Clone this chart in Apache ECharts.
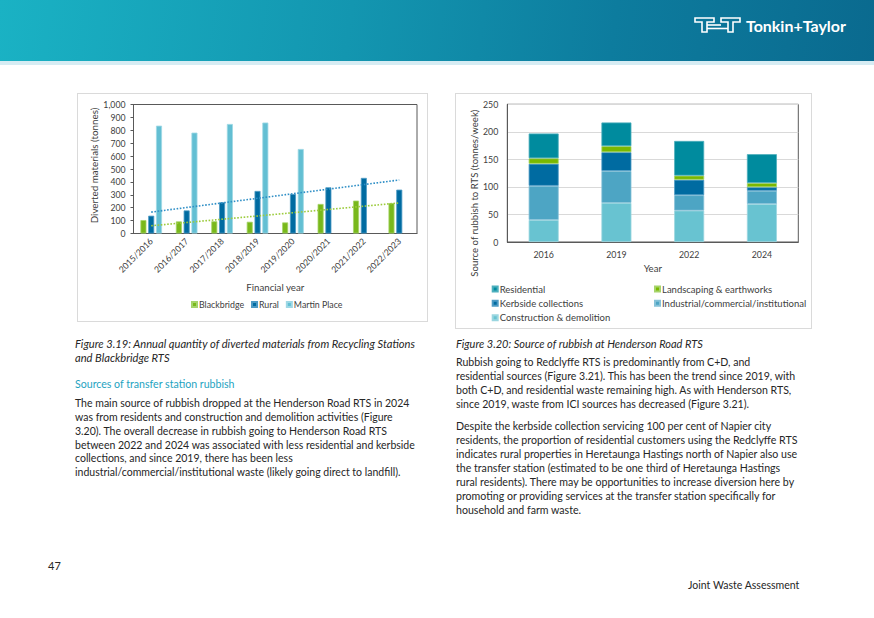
<!DOCTYPE html>
<html><head><meta charset="utf-8">
<script src="https://cdn.jsdelivr.net/npm/echarts@6/dist/echarts.min.js"></script>
<style>
html,body{margin:0;padding:0;background:#fff;}
body{width:874px;height:618px;position:relative;overflow:hidden;font-family:Lato,'Noto Sans',sans-serif;color:#262626;}
.hdr{position:absolute;left:0;top:0;width:874px;height:61px;background:linear-gradient(98deg,#1AB2C4 0%,#1396B0 40%,#0D7C9E 70%,#0A6A8F 100%);}
.band{position:absolute;left:0;top:61px;width:874px;height:4px;background:#D6ECF3;}
.t{position:absolute;white-space:nowrap;}
.frame{position:absolute;border:1px solid #DADADA;box-sizing:border-box;}
.cap{font-style:italic;}
.h{color:#1EA3BF;}
</style></head>
<body>
<div class="hdr"></div><div class="band"></div>
<svg style="position:absolute;left:694px;top:17px" width="48" height="16" viewBox="0 0 48 16">
  <g fill="none" stroke="#fff" stroke-width="1.6" stroke-linejoin="miter">
    <path d="M1 1 H20 V5 H13 V15 H8 V5 H1 Z"/>
    <path d="M13 8 H27"/>
    <path d="M27 1 H46 V5 H39 V15 H34 V5 H27 Z"/>
    <path d="M13 11.5 H34"/>
  </g>
</svg>
<div class="t" id="logo" style="left:746px;top:17px;font-weight:700;font-size:15px;color:#fff;line-height:18px;">Tonkin+Taylor</div>

<div class="frame" style="left:77px;top:93px;width:351px;height:229px;"></div>
<div id="c1" style="position:absolute;left:77px;top:93px;width:351px;height:229px;"></div>
<div class="frame" style="left:455px;top:93px;width:357px;height:236px;"></div>
<div id="c2" style="position:absolute;left:455px;top:93px;width:357px;height:236px;"></div>

<div class="t cap" id="cap1" style="left:75px;top:337px;line-height:13.7px;font-size:11px;">Figure 3.19: Annual quantity of diverted materials from Recycling Stations<br>and Blackbridge RTS</div>
<div class="t h" id="head1" style="left:75px;top:377px;line-height:14px;font-size:11px;">Sources of transfer station rubbish</div>
<div class="t" id="p1" style="left:75px;top:397px;line-height:13.85px;font-size:11px;">The main source of rubbish dropped at the Henderson Road RTS in 2024<br>was from residents and construction and demolition activities (Figure<br>3.20). The overall decrease in rubbish going to Henderson Road RTS<br>between 2022 and 2024 was associated with less residential and kerbside<br>collections, and since 2019, there has been less<br>industrial/commercial/institutional waste (likely going direct to landfill).</div>

<div class="t cap" id="cap2" style="left:456px;top:337px;line-height:14px;font-size:11px;">Figure 3.20: Source of rubbish at Henderson Road RTS</div>
<div class="t" id="p2" style="left:456px;top:356.3px;line-height:13.9px;font-size:11px;">Rubbish going to Redclyffe RTS is predominantly from C+D, and<br>residential sources (Figure 3.21). This has been the trend since 2019, with<br>both C+D, and residential waste remaining high. As with Henderson RTS,<br>since 2019, waste from ICI sources has decreased (Figure 3.21).</div>
<div class="t" id="p3" style="left:456px;top:419px;line-height:14px;font-size:11px;">Despite the kerbside collection servicing 100 per cent of Napier city<br>residents, the proportion of residential customers using the Redclyffe RTS<br>indicates rural properties in Heretaunga Hastings north of Napier also use<br>the transfer station (estimated to be one third of Heretaunga Hastings<br>rural residents). There may be opportunities to increase diversion here by<br>promoting or providing services at the transfer station specifically for<br>household and farm waste.</div>

<div class="t" style="left:48px;top:559px;font-size:11px;line-height:14px;">47</div>
<div class="t" id="jwa" style="left:688px;top:578px;font-size:11px;line-height:14px;">Joint Waste Assessment</div>

<script>
// ---------- data: Figure 3.19 ----------
const fyCategories = ['2015/2016','2016/2017','2017/2018','2018/2019','2019/2020','2020/2021','2021/2022','2022/2023'];
const blackbridge = [104, 94, 95, 91, 86, 229, 255, 236];
const rural = [138, 179, 242, 330, 306, 358, 431, 340];
const martinPlace = [836, 782, 849, 860, 655, null, null, null];
const ruralTrendEnds = [166, 415];
const blackbridgeTrendEnds = [60, 237];
const yTicks1 = [0,100,200,300,400,500,600,700,800,900,1000];

// ---------- data: Figure 3.20 ----------
const years = ['2016','2019','2022','2024'];
const constructionDemolition = [40, 71, 57, 69];
const industrialCommercial = [62, 58, 28, 24];
const kerbside = [40, 34, 28, 6.5];
const landscaping = [10, 11, 7.5, 7.5];
const residential = [45, 43, 63, 52.5];

// ---------- fit text widths ----------
function fit(id, refText, target){
  const el = document.getElementById(id);
  const cs = getComputedStyle(el);
  const fs = parseFloat(cs.fontSize);
  const c = document.createElement('canvas').getContext('2d');
  c.font = cs.fontStyle + ' ' + cs.fontWeight + ' ' + fs + 'px ' + cs.fontFamily;
  const w = c.measureText(refText).width;
  el.style.fontSize = (fs * target / w) + 'px';
}
fit('p1', 'The main source of rubbish dropped at the Henderson Road RTS in 2024', 335);
fit('cap1', 'Figure 3.19: Annual quantity of diverted materials from Recycling Stations', 341);
fit('head1', 'Sources of transfer station rubbish', 160);
fit('cap2', 'Figure 3.20: Source of rubbish at Henderson Road RTS', 247);
fit('p2', 'residential sources (Figure 3.21). This has been the trend since 2019, with', 340);
fit('p3', 'residents, the proportion of residential customers using the Redclyffe RTS', 342);
fit('logo', 'Tonkin+Taylor', 100);
fit('jwa', 'Joint Waste Assessment', 112);

const FONT = 'Lato';
const TXT = '#404040';
const trendData = ends => fyCategories.map((c, i) => i === 0 ? ends[0] : (i === fyCategories.length - 1 ? ends[1] : null));

// ---------- chart 1 ----------
const ch1 = echarts.init(document.getElementById('c1'), null, {renderer: 'svg'});
ch1.setOption({
  animation: false,
  textStyle: {fontFamily: FONT, color: TXT},
  grid: {left: 56.5, right: 11, top: 11.5, bottom: 88.5, show: true, borderColor: '#595959', borderWidth: 1,
    backgroundColor: 'transparent', outerBoundsMode: 'none', containLabel: false},
  legend: {
    left: 114, top: 207, padding: 0, itemWidth: 5, itemHeight: 5, itemGap: 7,
    icon: 'rect',
    textStyle: {fontFamily: FONT, fontSize: 8.8, color: TXT, padding: [0, 0, 0, -3]},
    data: ['Blackbridge', 'Rural', 'Martin Place']
  },
  xAxis: {
    type: 'category', data: fyCategories,
    name: 'Financial year', nameLocation: 'middle', nameGap: 48, nameMoveOverlap: false,
    nameTextStyle: {fontFamily: FONT, fontSize: 9.7, color: TXT},
    axisLine: {lineStyle: {color: '#595959'}},
    axisTick: {show: false},
    axisLabel: {rotate: 45, margin: 6, fontSize: 8.7, color: TXT, fontFamily: FONT, interval: 0}
  },
  yAxis: {
    type: 'value', min: yTicks1[0], max: yTicks1[yTicks1.length - 1], interval: 100,
    name: 'Diverted materials (tonnes)', nameLocation: 'middle', nameGap: 34.5, nameMoveOverlap: false,
    nameTextStyle: {fontFamily: FONT, fontSize: 9.8, color: TXT, padding: [0, 0, 0, 7]},
    axisLine: {show: true, lineStyle: {color: '#595959'}},
    axisTick: {show: true, length: 3, lineStyle: {color: '#595959'}},
    splitLine: {show: false},
    axisLabel: {fontSize: 8.7, color: TXT, fontFamily: FONT, margin: 8,
      formatter: v => v.toLocaleString('en-US')}
  },
  series: [
    {name: 'Blackbridge', type: 'bar', data: blackbridge, barWidth: 6, barGap: '30%',
      itemStyle: {color: '#79B81B', borderColor: '#A6D46A', borderWidth: 0.8}},
    {name: 'Rural', type: 'bar', data: rural, barWidth: 6, barGap: '30%',
      itemStyle: {color: '#006BA1', borderColor: '#4C9AC4', borderWidth: 0.8}},
    {name: 'Martin Place', type: 'bar', data: martinPlace, barWidth: 6, barGap: '30%',
      itemStyle: {color: '#63BFD3', borderColor: '#9ED8E5', borderWidth: 0.8}},
    {name: 'Rural trend', type: 'line', data: trendData(ruralTrendEnds), connectNulls: true,
      symbol: 'none', lineStyle: {color: '#2F8FC6', width: 1.6, type: [1.6, 1.6]}, z: 5},
    {name: 'Blackbridge trend', type: 'line', data: trendData(blackbridgeTrendEnds), connectNulls: true,
      symbol: 'none', lineStyle: {color: '#9CCB3C', width: 1.6, type: [1.6, 1.6]}, z: 5}
  ]
});

// ---------- chart 2 ----------
const ch2 = echarts.init(document.getElementById('c2'), null, {renderer: 'svg'});
const seg = (name, data, color, border) => ({name, type: 'bar', stack: 'total', data, barWidth: 30,
  itemStyle: {color, borderColor: border, borderWidth: 0.8}});
const legItem = (name, left, top) => ({data: [name], left, top, padding: 0, itemWidth: 5, itemHeight: 5, icon: 'rect',
  textStyle: {fontFamily: FONT, fontSize: 9.5, color: TXT, padding: [0, 0, 0, -3]}});
ch2.setOption({
  animation: false,
  textStyle: {fontFamily: FONT, color: TXT},
  grid: {left: 52.3, right: 13.7, top: 11.3, bottom: 87, show: true, borderColor: '#595959', borderWidth: 1,
    backgroundColor: 'transparent', outerBoundsMode: 'none', containLabel: false},
  legend: [
    legItem('Residential', 36.7, 191),
    legItem('Landscaping & earthworks', 199, 191),
    legItem('Kerbside collections', 36.7, 205.3),
    legItem('Industrial/commercial/institutional', 199, 205.3),
    legItem('Construction & demolition', 36.7, 219.7)
  ],
  xAxis: {
    type: 'category', data: years,
    name: 'Year', nameLocation: 'middle', nameGap: 21, nameMoveOverlap: false,
    nameTextStyle: {fontFamily: FONT, fontSize: 9.6, color: TXT},
    axisLine: {lineStyle: {color: '#595959'}},
    axisTick: {show: false},
    axisLabel: {margin: 8, fontSize: 8.8, color: TXT, fontFamily: FONT}
  },
  yAxis: {
    type: 'value', min: 0, max: 250, interval: 50,
    name: 'Source of rubbish to RTS (tonnes/week)', nameLocation: 'middle', nameGap: 27.5, nameMoveOverlap: false,
    nameTextStyle: {fontFamily: FONT, fontSize: 9.6, color: TXT, padding: [0, 40, 0, 0]},
    axisLine: {show: true, lineStyle: {color: '#595959'}},
    axisTick: {show: false},
    splitLine: {show: true, lineStyle: {color: '#D9D9D9', width: 1}},
    axisLabel: {fontSize: 8.8, color: TXT, fontFamily: FONT, margin: 9}
  },
  series: [
    seg('Construction & demolition', constructionDemolition, '#68C3D1', '#9AD6E0'),
    seg('Industrial/commercial/institutional', industrialCommercial, '#4DA5C4', '#86C2D8'),
    seg('Kerbside collections', kerbside, '#006BA1', '#4C9AC4'),
    seg('Landscaping & earthworks', landscaping, '#7AB800', '#A6D46A'),
    seg('Residential', residential, '#008B9E', '#4CAFBD')
  ]
});
</script>
</body></html>
